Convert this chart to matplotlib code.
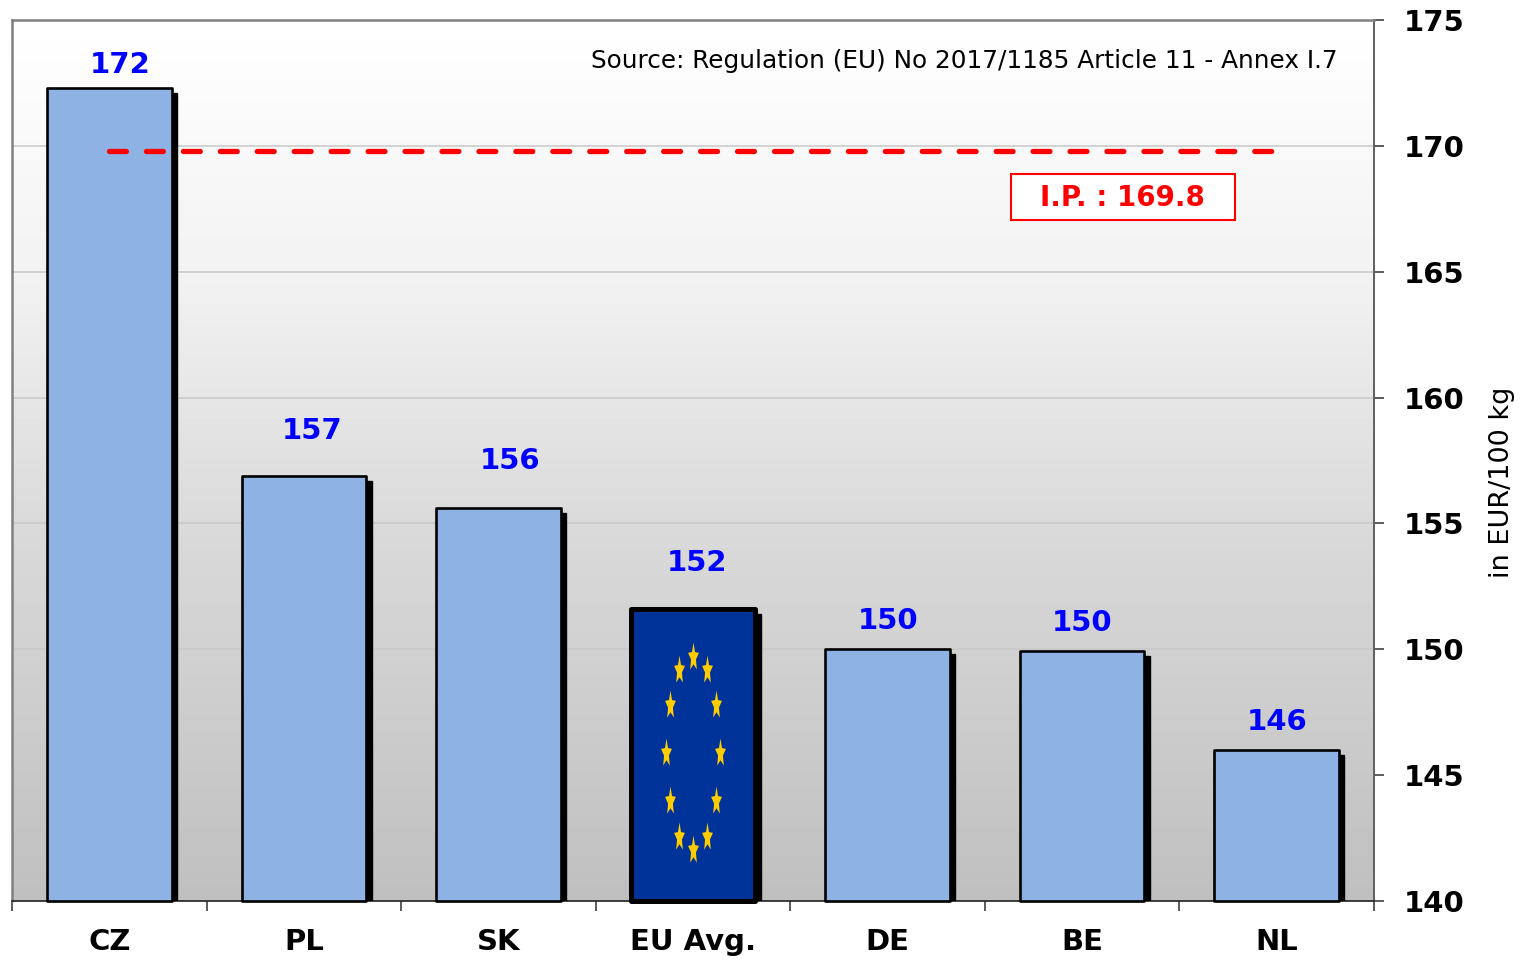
import numpy as np
import matplotlib
matplotlib.use('Agg')
import matplotlib.pyplot as plt
from matplotlib.patches import Rectangle
from matplotlib.path import Path
from matplotlib.transforms import ScaledTranslation

plt.rcParams['font.family'] = ['DejaVu Sans']

# data
countries = ['CZ', 'PL', 'SK', 'EU Avg.', 'DE', 'BE', 'NL']
prices = [172.3, 156.9, 155.6, 151.6, 150.0, 149.95, 146.0]
trigger_price = 169.8
y_ticks = [140, 145, 150, 155, 160, 165, 170, 175]
source_text = 'Source: Regulation (EU) No 2017/1185 Article 11 - Annex I.7'
ip_text = 'I.P. : 169.8'
unit_text = 'in EUR/100 kg'

# label shifts in pixels (x, y above bar top), the original has them hand placed
label_shift = [(11, 23), (8, 45), (12, 47), (4, 46), (0, 28), (0, 28), (0, 28)]

W, H = 1529, 960
DPI = 100
px = 72 / DPI  # one pixel in points
BASE = 140

fig = plt.figure(figsize=(W / DPI, H / DPI), dpi=DPI, facecolor='white')
ax = fig.add_axes([12 / W, (H - 901) / H, 1362 / W, 881 / H])


def ax_x(p):
    return (p - 12) / 1362


def ax_y(p):
    return (901 - p) / 881


# background gradient, white on top and grey at the bottom
t = np.linspace(0, 1, 256)
grad = np.interp(t, [0, 0.285, 0.57, 1], [1.0, 0.95, 0.855, 0.75]).reshape(-1, 1)
ax.imshow(grad, cmap='gray', vmin=0, vmax=1, extent=[0, 1, 0, 1], transform=ax.transAxes,
          aspect='auto', zorder=0, interpolation='bilinear')

x = np.arange(len(countries))
heights = np.array(prices) - BASE
bar_w = 0.64
is_eu = np.array([c == 'EU Avg.' for c in countries])
colors = ['#003399' if e else '#8DB2E3' for e in is_eu]
edge_w = [3.6 if e else 1.9 for e in is_eu]

# drop shadow is just the same bars moved right and down, clipped by the axes
shadow = ax.transData + ScaledTranslation(5.5 / DPI, -5 / DPI, fig.dpi_scale_trans)
ax.bar(x, heights, bar_w, bottom=BASE, color='black', edgecolor='black', linewidth=1,
       transform=shadow, zorder=3)
bars = ax.bar(x, heights, bar_w, bottom=BASE, color=colors, edgecolor='black', linewidth=edge_w, zorder=4)
for b in bars:
    b.set_clip_on(False)
    b.set_joinstyle('round')

# narrow stars of the EU flag, circle stretched with the bar
star = Path.unit_regular_star(5, 0.45)
star = Path(star.vertices * [0.38, 1.0], star.codes)
i_eu = int(np.argmax(is_eu))
angles = np.deg2rad(np.arange(0, 360, 30))
star_x = i_eu + 0.139 * np.sin(angles)
star_y = 145.87 + 3.83 * np.cos(angles)
ax.plot(star_x, star_y, ls='none', marker=star, ms=30 * px, mfc='#FFCC00', mec='none', zorder=5)

ax.plot([0.0, 6.02], [trigger_price, trigger_price], color='#FF0000', lw=3.8,
        dashes=(3.2, 3.8), dash_capstyle='round', zorder=6)

for i, (v, (dx, dy)) in enumerate(zip(prices, label_shift)):
    ax.annotate(f'{v:.0f}', (i, v), xytext=(dx * px, dy * px), textcoords='offset points',
                ha='center', va='center', color='#0000FF', fontsize=21, fontweight='bold', zorder=7)

ax.text(ax_x(1338), ax_y(61), source_text, transform=ax.transAxes,
        ha='right', va='center', fontsize=17.8, color='black', zorder=7)
ax.add_patch(Rectangle((ax_x(1011), ax_y(220)), 224 / 1362, 46 / 881, transform=ax.transAxes,
                       fc='white', ec='#FF0000', lw=1.5, zorder=6))
ax.text(ax_x(1122), ax_y(198), ip_text, transform=ax.transAxes, ha='center', va='center',
        fontsize=20, fontweight='bold', color='#FF0000', zorder=7)
ax.text(ax_x(1502), ax_y(482), unit_text, transform=ax.transAxes, rotation=90,
        ha='center', va='center', fontsize=19.5, color='black', clip_on=False)

ax.set_xlim(-0.5, len(countries) - 0.5)
ax.set_ylim(BASE, 175)
ax.yaxis.tick_right()
ax.set_yticks(y_ticks)
ax.set_yticklabels([str(t) for t in y_ticks], fontsize=21, fontweight='bold')
ax.tick_params(axis='y', length=10 * px, width=1.2, color='#404040', pad=20 * px)

ax.set_xticks(np.arange(len(countries) + 1) - 0.5)
ax.set_xticklabels([])
ax.set_xticks(x, minor=True)
ax.set_xticklabels(countries, minor=True, fontsize=21, fontweight='bold')
ax.tick_params(axis='x', which='major', length=10 * px, width=1.2, color='#404040')
ax.tick_params(axis='x', which='minor', length=0, pad=27 * px)

ax.grid(axis='y', color='#C8C8C8', lw=1.1, zorder=1)
ax.set_axisbelow(True)

ax.spines['top'].set(color='#808080', linewidth=1.8)
ax.spines['left'].set(color='#808080', linewidth=1.8)
ax.spines['right'].set(color='#606060', linewidth=1.4)
ax.spines['bottom'].set(color='#202020', linewidth=1.2)

fig.savefig('out.png', dpi=DPI)
